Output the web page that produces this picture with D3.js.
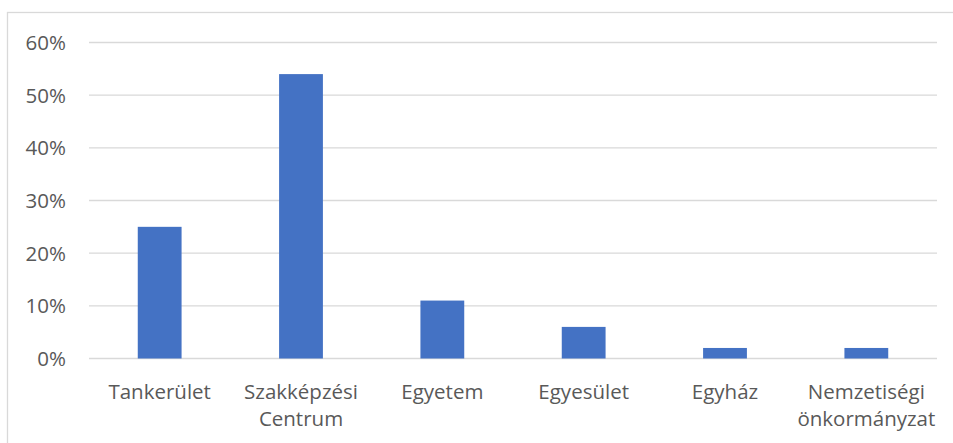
<!DOCTYPE html>
<html>
<head>
<meta charset="utf-8">
<script src="https://cdn.jsdelivr.net/npm/d3@7"></script>
<style>
  html, body { margin: 0; padding: 0; background: #fff; }
  svg { display: block; }
  text { font-family: "Open Sans", sans-serif; fill: #595959; }
</style>
</head>
<body>
<script>
const categories = ["Tankerület", "Szakképzési Centrum", "Egyetem", "Egyesület", "Egyház", "Nemzetiségi önkormányzat"];
const categoryLines = [["Tankerület"], ["Szakképzési", "Centrum"], ["Egyetem"], ["Egyesület"], ["Egyház"], ["Nemzetiségi", "önkormányzat"]];
const values = [0.25, 0.54, 0.11, 0.06, 0.02, 0.02];
const yTicks = [0, 0.1, 0.2, 0.3, 0.4, 0.5, 0.6];

const W = 953, H = 443;
const svg = d3.select("body").append("svg").attr("width", W).attr("height", H);

// chart border
svg.append("rect")
  .attr("x", 7.5).attr("y", 12.5)
  .attr("width", 960).attr("height", 440)
  .attr("fill", "none").attr("stroke", "#d9d9d9").attr("stroke-width", 1.3);

const x = d3.scaleBand().domain(categories).range([89, 937]).paddingInner(0.69).paddingOuter(0.345);
const y = d3.scaleLinear().domain([0, 0.6]).range([358.5, 42.5]);

// gridlines
svg.append("g").selectAll("line").data(yTicks).join("line")
  .attr("x1", 89).attr("x2", 937)
  .attr("y1", d => y(d)).attr("y2", d => y(d))
  .attr("stroke", "#d9d9d9").attr("stroke-width", 1.3);

// y axis labels
const yAxis = d3.axisLeft(y).tickValues(yTicks).tickFormat(d3.format(".0%")).tickSize(0).tickPadding(0);
const yg = svg.append("g").attr("transform", "translate(66,0)").call(yAxis);
yg.select(".domain").remove();
yg.selectAll("text").attr("font-size", 20.5).attr("fill", "#595959").attr("font-family", "Open Sans, sans-serif").attr("dy", "0.34em");

// bars
svg.append("g").selectAll("rect").data(values).join("rect")
  .attr("x", (d, i) => x(categories[i]))
  .attr("width", x.bandwidth())
  .attr("y", d => y(d))
  .attr("height", d => y(0) - y(d))
  .attr("fill", "#4472c4");

// x labels
const xl = svg.append("g").selectAll("text").data(categories).join("text")
  .attr("x", d => x(d) + x.bandwidth() / 2)
  .attr("y", 398.5)
  .attr("text-anchor", "middle")
  .attr("font-size", 20.5);
xl.each(function(d, i) {
  const t = d3.select(this);
  categoryLines[i].forEach((ln, j) => {
    t.append("tspan").attr("x", x(d) + x.bandwidth() / 2).attr("dy", j === 0 ? 0 : 27).text(ln);
  });
});
</script>
</body>
</html>
